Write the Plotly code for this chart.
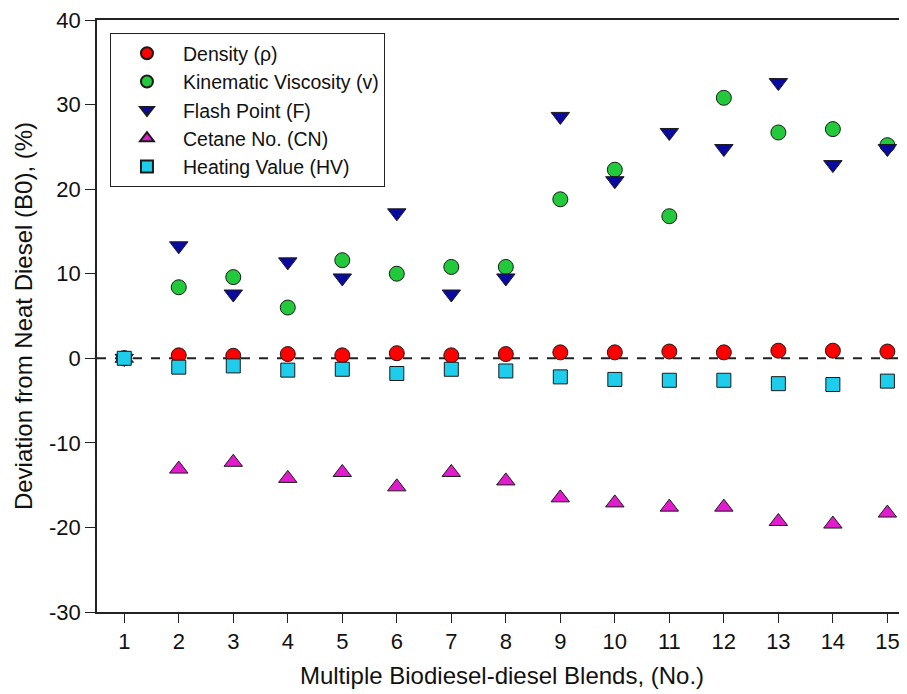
import plotly.graph_objects as go

blends = list(range(1, 16))
density = [0, 0.35, 0.3, 0.5, 0.35, 0.6, 0.35, 0.5, 0.7, 0.7, 0.8, 0.7, 0.9, 0.9, 0.8]
viscosity = [0, 8.4, 9.6, 6.0, 11.6, 10.0, 10.8, 10.8, 18.8, 22.3, 16.8, 30.8, 26.7, 27.1, 25.2]
flash_point = [0, 13.3, 7.6, 11.4, 9.5, 17.2, 7.6, 9.5, 28.6, 21.0, 26.7, 24.8, 32.6, 22.9, 24.8]
cetane = [0, -13.1, -12.3, -14.2, -13.5, -15.2, -13.5, -14.5, -16.5, -17.1, -17.6, -17.6, -19.3, -19.6, -18.3]
heating = [0, -1.05, -0.9, -1.4, -1.3, -1.8, -1.3, -1.5, -2.2, -2.5, -2.6, -2.6, -3.0, -3.1, -2.7]

y_ticks = [-30, -20, -10, 0, 10, 20, 30, 40]
y_tick_labels = ["-30", "-20", "-10", "0", "10", "20", "30", "40"]

series = [
    ("Density (ρ)", density, "circle", "#FF0000", 15),
    ("Kinematic Viscosity (v)", viscosity, "circle", "#22C93A", 15),
    ("Flash Point (F)", flash_point, "triangle-down", "#0A0AA0", 16),
    ("Cetane No. (CN)", cetane, "triangle-up", "#E21BCF", 16),
    ("Heating Value (HV)", heating, "square", "#1ECDEB", 14),
]

fig = go.Figure()
for name, vals, sym, col, sz in series:
    fig.add_trace(go.Scatter(
        x=blends, y=vals, mode="markers", name=name,
        marker=dict(symbol=sym, color=col, size=sz,
                    line=dict(color="#1a1a1a", width=1)),
    ))

fig.add_shape(type="line", xref="paper", yref="y", x0=0, x1=1, y0=0, y1=0,
              line=dict(color="#222222", width=2, dash="dash"), layer="below")

fig.update_layout(
    width=907, height=694,
    margin=dict(l=89, r=8, t=12, b=90, autoexpand=False),
    paper_bgcolor="white", plot_bgcolor="white",
    font=dict(family="Liberation Sans, Arial, sans-serif", color="#111111", size=20),
    showlegend=True,
    legend=dict(x=0.016, y=0.978, xanchor="left", yanchor="top",
                bordercolor="#222222", borderwidth=1, bgcolor="white",
                font=dict(size=19.5), tracegroupgap=0, itemsizing="constant",
                itemwidth=62),
    xaxis=dict(range=[0.5, 15.36], tickmode="array", tickvals=blends,
               ticks="outside", ticklen=9, tickcolor="#222", showgrid=False,
               showline=True, linecolor="#222", linewidth=1.5, mirror=True,
               zeroline=False, tickfont=dict(size=22), ticklabeloverflow="allow",
               automargin=False,
               title=dict(text="Multiple Biodiesel-diesel Blends, (No.)", font=dict(size=24), standoff=14)),
    yaxis=dict(range=[-30, 40], tickmode="array", tickvals=y_ticks, ticktext=y_tick_labels,
               ticks="outside", ticklen=10, tickcolor="#222", showgrid=False,
               showline=True, linecolor="#222", linewidth=1.5,
               zeroline=False, tickfont=dict(size=22), ticklabeloverflow="allow",
               automargin=False,
               title=dict(text="Deviation from Neat Diesel (B0), (%)", font=dict(size=24), standoff=10)),
)

fig.write_html("out.html")
